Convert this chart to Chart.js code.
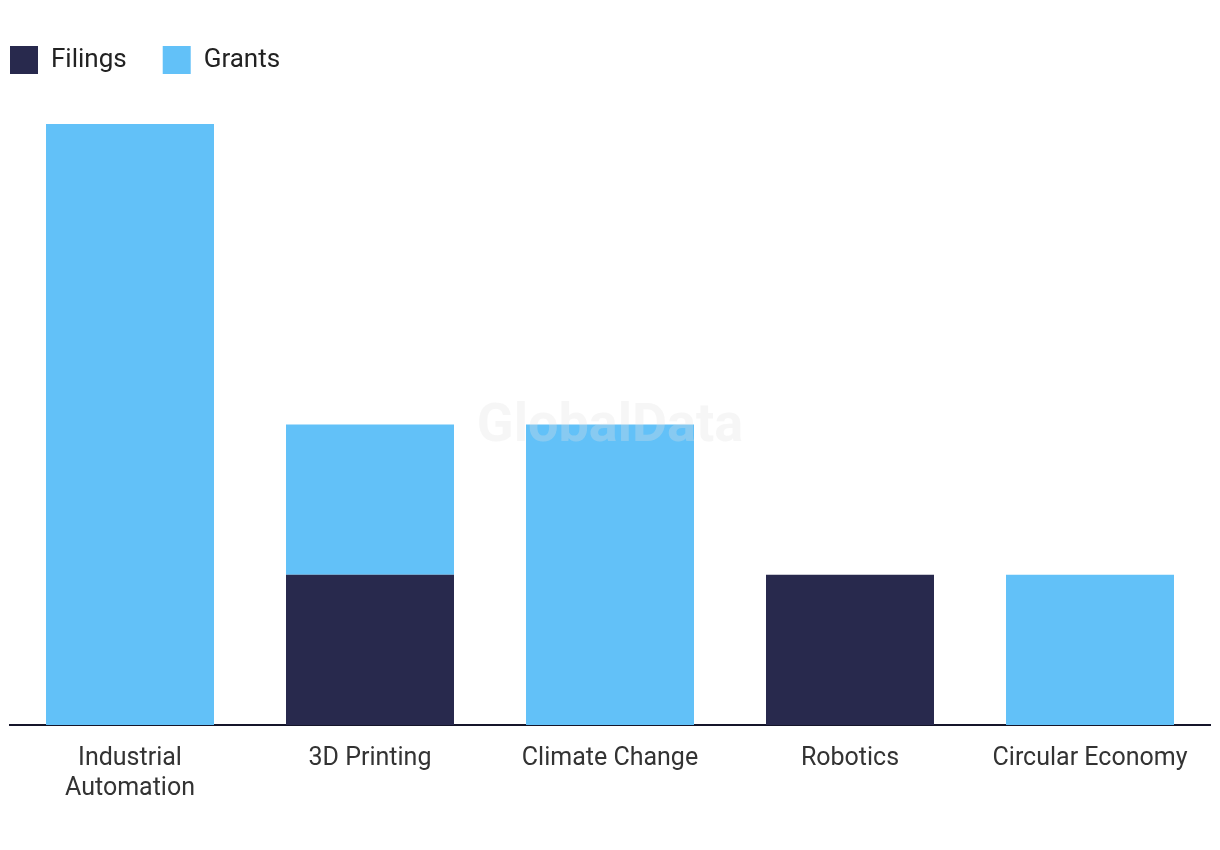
<!DOCTYPE html>
<html>
<head>
<meta charset="utf-8">
<script src="https://cdn.jsdelivr.net/npm/chart.js@4"></script>
<style>
html,body{margin:0;padding:0;background:#fff;}
#wrap{width:1220px;height:850px;position:relative;}
</style>
</head>
<body>
<div id="wrap"><canvas id="c" width="1220" height="850"></canvas></div>
<script>
const categories = [['Industrial','Automation'], '3D Printing', 'Climate Change', 'Robotics', 'Circular Economy'];
const filings = [0, 1, 0, 1, 0];
const grants = [4, 1, 2, 0, 1];
const seriesNames = ['Filings', 'Grants'];
const colors = ['#28294d', '#62c1f8'];

const FONT = 'Roboto, "Noto Sans", sans-serif';
const LEG_PAD = 36;

const legendPlace = {
  id: 'legendPlace',
  beforeInit(chart) {
    const orig = chart.legend.fit;
    chart.legend.fit = function () { orig.call(this); this.height = 114; };
  },
  afterLayout(chart) {
    chart.legend.left = 10 - LEG_PAD;
    chart.legend.top = 46 - LEG_PAD;
  }
};
const watermark = {
  id: 'watermark',
  afterDatasetsDraw(chart) {
    const ctx = chart.ctx;
    ctx.save();
    ctx.font = 'bold 54px ' + FONT;
    ctx.fillStyle = 'rgba(225,225,225,0.3)';
    ctx.textAlign = 'center';
    ctx.textBaseline = 'middle';
    ctx.fillText('GlobalData', 610, 427);
    ctx.restore();
  }
};

new Chart(document.getElementById('c'), {
  type: 'bar',
  data: {
    labels: categories,
    datasets: [
      { label: seriesNames[0], data: filings, backgroundColor: colors[0], borderWidth: 0 },
      { label: seriesNames[1], data: grants, backgroundColor: colors[1], borderWidth: 0 }
    ]
  },
  options: {
    responsive: false,
    animation: false,
    devicePixelRatio: 1,
    layout: { padding: { left: 10, right: 10, top: 10, bottom: 27 } },
    datasets: { bar: { categoryPercentage: 0.7, barPercentage: 1 } },
    plugins: {
      legend: {
        position: 'top',
        align: 'start',
        labels: {
          boxWidth: 28, boxHeight: 28, padding: LEG_PAD,
          color: '#222', font: { family: FONT, size: 26 }
        }
      },
      tooltip: { enabled: false }
    },
    scales: {
      x: {
        stacked: true,
        grid: { display: false, drawTicks: false },
        border: { display: true, color: '#15152a', width: 2 },
        ticks: { color: '#333', font: { family: FONT, size: 25, lineHeight: 1.2 }, padding: 19, maxRotation: 0, autoSkip: false }
      },
      y: {
        stacked: true, display: false, min: 0, max: 4
      }
    }
  },
  plugins: [legendPlace, watermark]
});
</script>
</body>
</html>
